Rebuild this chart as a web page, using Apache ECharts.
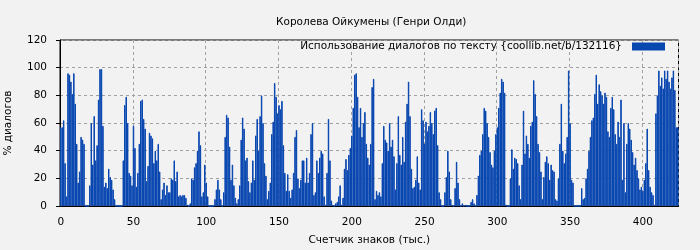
<!DOCTYPE html>
<html>
<head>
<meta charset="utf-8">
<script src="https://cdn.jsdelivr.net/npm/echarts@6/dist/echarts.min.js"></script>
<style>
html,body{margin:0;padding:0;background:#f2f2f2;}
#chart{width:700px;height:250px;}
</style>
</head>
<body>
<div id="chart"></div>
<script>
const chartTitle = 'Королева Ойкумены (Генри Олди)';
const seriesName = 'Использование диалогов по тексту {coollib.net/b/132116}';
const xAxisTitle = 'Счетчик знаков (тыс.)';
const yAxisTitle = '% диалогов';
const xTickStep = 50;
const yTicks = [0, 20, 40, 60, 80, 100, 120];
// percent of dialogue per 1000 characters
const values = [
  57,57,62,31,7,96,95,90,81,96,
  74,45,17,25,50,48,45,0,0,0,
  15,60,30,65,33,44,77,99,99,58,
  14,17,13,27,21,19,12,5,0,0,
  0,0,0,33,73,79,60,24,22,15,
  58,42,14,24,45,76,77,63,56,18,
  29,53,51,49,31,40,33,45,25,5,
  12,17,8,15,10,10,20,19,33,18,
  25,7,8,7,8,8,6,1,0,2,
  20,19,28,31,40,54,44,7,10,30,
  17,7,0,0,0,0,5,12,19,12,
  5,0,10,50,66,64,43,19,30,15,
  6,2,5,15,48,64,56,33,35,18,
  10,17,33,19,51,63,40,65,80,60,
  31,22,5,11,17,52,61,89,79,67,
  73,70,76,44,24,11,23,11,6,12,
  24,50,55,20,13,19,33,33,17,35,
  17,24,52,60,8,10,33,24,35,40,
  38,7,1,24,63,33,4,1,0,2,
  3,7,15,1,6,27,34,26,37,42,
  51,71,95,96,79,57,71,50,60,68,
  45,35,30,45,86,92,5,11,8,10,
  7,31,58,48,46,40,60,43,48,36,
  12,31,65,37,30,50,32,61,74,90,
  65,27,13,14,19,36,17,12,70,62,
  45,61,54,58,68,60,52,69,71,44,
  10,5,0,0,10,21,40,25,5,1,
  0,13,32,17,5,0,2,0,1,0,
  0,0,3,5,2,0,8,22,37,40,
  52,71,69,60,50,39,30,28,40,52,
  57,71,82,92,90,82,1,0,0,20,
  41,27,35,34,31,15,5,30,69,38,
  51,45,35,58,61,91,81,65,45,39,
  25,5,21,32,36,31,19,30,26,25,
  5,4,20,45,74,40,31,38,50,98,
  60,19,17,0,0,0,0,0,13,5,
  6,20,27,40,50,62,64,81,95,74,
  88,83,80,74,82,79,54,50,71,79,
  70,52,45,61,50,77,19,60,10,45,
  60,56,48,39,30,35,26,20,12,14,
  11,19,31,56,26,14,10,8,1,67,
  80,98,87,93,85,98,92,98,90,85,
  93,98,84,57,57
];
const categories = values.map((_, i) => String(i));

const FONT = 'DejaVu Sans';
const FS = 10.5;
const BAR = '#0846b0';
const chart = echarts.init(document.getElementById('chart'), null, {renderer: 'canvas'});
const onStep = (i) => i % xTickStep === 0;
chart.setOption({
  backgroundColor: '#f2f2f2',
  animation: false,
  title: {
    text: chartTitle, left: 271, top: 12,
    textStyle: {fontFamily: FONT, fontSize: FS, fontWeight: 'normal', color: '#000'}
  },
  legend: {
    data: [seriesName], right: 35, top: 41, padding: 0,
    align: 'right', itemWidth: 31, itemHeight: 6, icon: 'rect',
    textStyle: {fontFamily: FONT, fontSize: FS, color: '#000', padding: [0, 6, 0, 0]}
  },
  grid: {left: 60, right: 21.5, top: 40, bottom: 44, show: true, borderColor: '#000', borderWidth: 1,
    backgroundColor: '#f2f2f2', containLabel: false, outerBoundsMode: 'none'},
  xAxis: {
    type: 'category', data: categories, boundaryGap: true,
    name: xAxisTitle, nameLocation: 'middle', nameGap: 29,
    nameTextStyle: {fontFamily: FONT, fontSize: FS, color: '#000'},
    axisLine: {lineStyle: {color: '#000'}},
    axisTick: {interval: (i) => onStep(i), length: 4, lineStyle: {color: '#000'}},
    axisLabel: {interval: (i) => onStep(i), fontFamily: FONT, fontSize: FS, color: '#000', margin: 11},
    splitLine: {show: true, interval: (i) => onStep(i) && i > 0, lineStyle: {color: '#a0a0a0', type: [3, 3]}}
  },
  yAxis: {
    type: 'value', min: yTicks[0], max: yTicks[yTicks.length - 1], interval: 20,
    name: yAxisTitle, nameLocation: 'middle', nameGap: 46, nameRotate: 90,
    nameTextStyle: {fontFamily: FONT, fontSize: FS, color: '#000'},
    axisLine: {show: true, lineStyle: {color: '#000'}},
    axisTick: {show: true, length: 4, lineStyle: {color: '#000'}},
    axisLabel: {fontFamily: FONT, fontSize: FS, color: '#000', margin: 13},
    splitLine: {show: true, lineStyle: {color: '#a0a0a0', type: [3, 3]}}
  },
  series: [{
    name: seriesName, type: 'bar', data: values,
    barWidth: '100%', barCategoryGap: '0%',
    itemStyle: {color: BAR, borderColor: BAR, borderWidth: 1}
  }]
});
</script>
</body>
</html>
